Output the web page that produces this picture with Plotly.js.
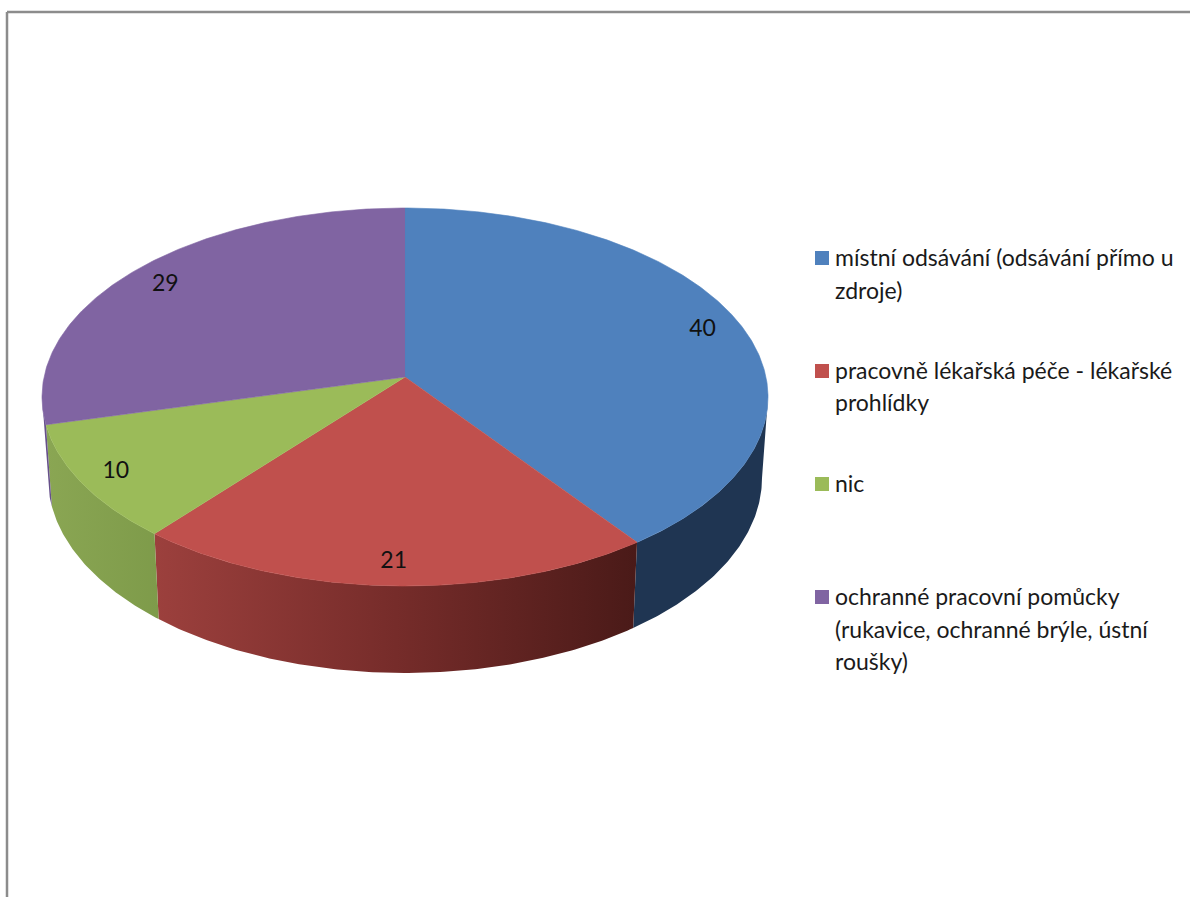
<!DOCTYPE html>
<html lang="cs">
<head>
<meta charset="utf-8">
<title>Ochrana zdraví na pracovišti</title>
<script src="https://cdn.plot.ly/plotly-3.0.1.min.js"></script>
<style>
  html, body { margin: 0; padding: 0; background: #fff; }
  #chart { width: 1190px; height: 897px; }
</style>
</head>
<body>
<div id="chart"></div>
<script>
// Survey answers, drawn clockwise from twelve o'clock.
const categories = [
  ["místní odsávání (odsávání přímo u", "zdroje)"],
  ["pracovně lékařská péče - lékařské", "prohlídky"],
  ["nic"],
  ["ochranné pracovní pomůcky", "(rukavice, ochranné brýle, ústní", "roušky)"]
];
const values = [40, 21, 10, 29];
const topColors = ["#4f81bd", "#c0504d", "#9bbb59", "#8064a2"];
const wallStops = [
  [[0, "#1f3552"], [1, "#1f3552"]],
  [[0, "#9c403d"], [0.5, "#762c2a"], [1, "#4a1a18"]],
  [[0, "#8aa653"], [1, "#7e9b4a"]],
  [[0, "#66508a"], [1, "#66508a"]]
];

// Pixel geometry of the tilted disc.
const W = 1190, H = 897;
const CX = 405, CY = 397;      // centre of the top ellipse
const RX = 363, RY = 189;      // its radii; one data unit equals these on each axis
const WALL = { cy: -81 / RY, rx: 357 / RX, ry: 195 / RY };  // lower rim of the side wall
const HUB = 20 / RY;           // perspective shift of the disc centre towards the back

// Project a point on the unit circle (clockwise angle from the top) onto the rim.
function rim(theta) {
  const sx = Math.sin(theta), sy = Math.cos(theta);
  const d = 1 + HUB * sy;
  return {
    x: sx * Math.sqrt(1 - HUB * HUB) / d,
    y: (sy + HUB) / d
  };
}

function arc(a0, a1) {
  const pts = [];
  const n = Math.max(2, Math.ceil((a1 - a0) / 0.01));
  for (let i = 0; i <= n; i++) pts.push(rim(a0 + (a1 - a0) * i / n));
  return pts;
}

const total = values.reduce((s, v) => s + v, 0);
let running = 0;
const spans = values.map(v => {
  const a0 = running / total * 2 * Math.PI;
  running += v;
  return [a0, running / total * 2 * Math.PI];
});

// Only the front of the rim has a wall: between the two angles where the
// ellipse reaches its widest points.
const FRONT_START = Math.acos(-HUB);
const FRONT_END = 2 * Math.PI - FRONT_START;

// Side walls go underneath, the top faces are laid over them.
const walls = spans.map(([a0, a1], i) => {
  const upper = arc(Math.max(a0, FRONT_START), Math.min(a1, FRONT_END));
  const lower = upper.map(p => ({ x: p.x * WALL.rx, y: WALL.cy + p.y * WALL.ry })).reverse();
  const ring = upper.concat(lower);
  const flat = wallStops[i][0][1] === wallStops[i][wallStops[i].length - 1][1];
  const xs = ring.map(p => p.x);
  const trace = {
    type: "scatter", mode: "lines", fill: "toself",
    x: xs, y: ring.map(p => p.y),
    line: { width: 0 }, hoverinfo: "skip", showlegend: false
  };
  if (flat) {
    trace.fillcolor = wallStops[i][0][1];
  } else {
    trace.fillgradient = {
      type: "horizontal",
      start: Math.min(...xs), stop: Math.max(...xs),
      colorscale: wallStops[i]
    };
  }
  return trace;
});

const faces = spans.map(([a0, a1], i) => {
  const ring = [{ x: 0, y: HUB }].concat(arc(a0, a1));
  return {
    type: "scatter", mode: "lines", fill: "toself",
    x: ring.map(p => p.x), y: ring.map(p => p.y),
    fillcolor: topColors[i],
    line: { width: 0.6, color: topColors[i] },
    hoverinfo: "skip", showlegend: false
  };
});

// Value labels sit on each slice's mid-angle, most of the way out from the hub.
const LABEL_REACH = { x: 0.895, y: 0.875, drop: 2 / RY };
const labelPoints = spans.map(([a0, a1]) => {
  const p = rim((a0 + a1) / 2);
  return {
    x: p.x * LABEL_REACH.x,
    y: HUB + (p.y - HUB) * LABEL_REACH.y - LABEL_REACH.drop
  };
});
const labels = {
  type: "scatter", mode: "text",
  x: labelPoints.map(p => p.x), y: labelPoints.map(p => p.y),
  text: values.map(String), textposition: "middle center",
  textfont: { family: "Lato, Carlito, sans-serif", size: 23, color: "#111111" },
  hoverinfo: "skip", showlegend: false
};

// Legend column: swatch plus hand-spaced text lines.
const LEGEND = { swatchX: 815, swatchSize: 14, textX: 833, firstY: 258, itemGap: 113, lineGap: 32.5 };
const px = v => v / W, py = v => 1 - v / H;

const legendShapes = categories.map((_, i) => {
  const mid = LEGEND.firstY + i * LEGEND.itemGap;
  return {
    type: "rect", xref: "paper", yref: "paper", layer: "above",
    x0: px(LEGEND.swatchX), x1: px(LEGEND.swatchX + LEGEND.swatchSize),
    y0: py(mid - LEGEND.swatchSize / 2), y1: py(mid + LEGEND.swatchSize / 2),
    fillcolor: topColors[i], line: { width: 0 }
  };
});

const legendText = categories.flatMap((lines, i) => lines.map((line, j) => ({
  xref: "paper", yref: "paper",
  x: px(LEGEND.textX),
  y: py(LEGEND.firstY - 1 + i * LEGEND.itemGap + j * LEGEND.lineGap),
  xanchor: "left", yanchor: "middle", showarrow: false,
  text: line,
  font: { family: "Lato, Carlito, sans-serif", size: 23, color: "#1a1a1a" }
})));

// Grey frame along the top and left of the sheet.
const frame = [
  { x0: px(7), x1: 1, y0: py(12), y1: py(12) },
  { x0: px(7), x1: px(7), y0: py(12), y1: 0 }
].map(s => Object.assign({
  type: "line", xref: "paper", yref: "paper", layer: "above",
  line: { color: "#8c8c8c", width: 2.5 }
}, s));

const hiddenAxis = { visible: false, showgrid: false, zeroline: false, fixedrange: true };

Plotly.newPlot("chart", walls.concat(faces, [labels]), {
  width: W, height: H,
  margin: { l: 0, r: 0, t: 0, b: 0 },
  paper_bgcolor: "#ffffff", plot_bgcolor: "#ffffff",
  showlegend: false,
  xaxis: Object.assign({ range: [-CX / RX, (W - CX) / RX] }, hiddenAxis),
  yaxis: Object.assign({ range: [(CY - H) / RY, CY / RY] }, hiddenAxis),
  shapes: frame.concat(legendShapes),
  annotations: legendText
}, { displayModeBar: false, staticPlot: true });
</script>
</body>
</html>
